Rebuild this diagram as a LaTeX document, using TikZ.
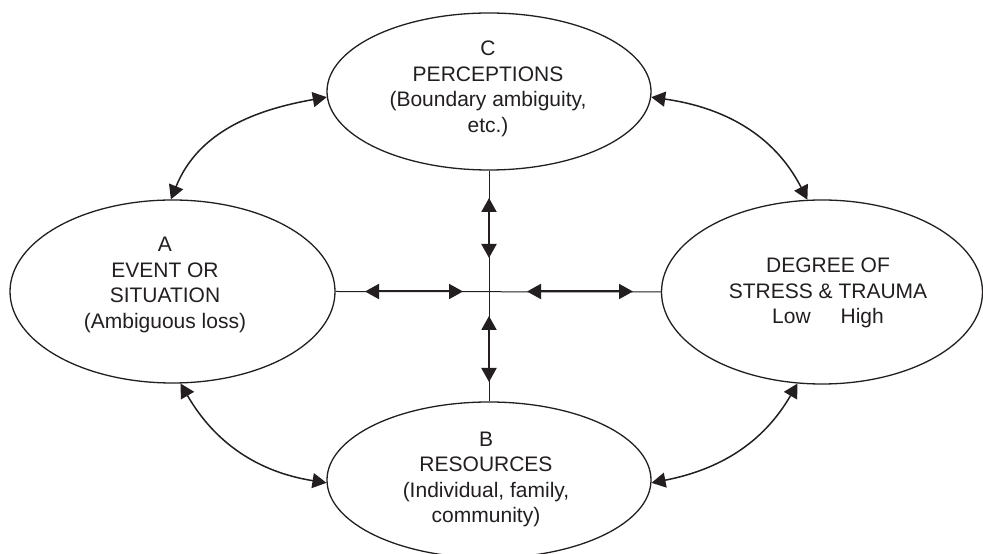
\documentclass[tikz,border=0pt]{standalone}
\usepackage{fontspec}
\setmainfont{Liberation Sans}
\usetikzlibrary{arrows.meta,shapes.geometric}
\definecolor{ink}{RGB}{35,31,32}
\begin{document}
\begin{tikzpicture}[x=1pt,y=1pt,
  oval/.style={ellipse, draw=ink, line width=1.3pt, inner sep=0pt},
  lbl/.style={align=center, text=ink, font=\fontsize{21}{25.5}\selectfont, inner sep=0pt},
  curvy/.style={{Triangle[length=14pt,width=15pt]}-{Triangle[length=14pt,width=15pt]}, draw=ink, fill=none, line width=1.5pt},
  crossline/.style={draw=ink, line width=1pt},
  crossarrow/.style={{Triangle[length=14pt,width=15pt]}-{Triangle[length=14pt,width=15pt]}, draw=ink, line width=2pt}
]
\useasboundingbox[fill=white] (0,0) rectangle (983,554);

% ellipses
\node[oval, minimum width=325pt, minimum height=183pt] (A) at (172.5,262.5) {};
\node[oval, minimum width=324pt, minimum height=157pt] (C) at (489,462.5) {};
\node[oval, minimum width=321pt, minimum height=184pt] (D) at (822,262) {};
\node[oval, minimum width=324pt, minimum height=156pt] (B) at (489,74) {};

% texts
\node[lbl] (Ct) at (488,465) {C\\PERCEPTIONS\\(Boundary ambiguity,\\etc.)};
\node[lbl] (At) at (165,269) {A\\EVENT OR\\SITUATION\\(Ambiguous loss)};
\node[lbl] (Dt) at (828,261) {DEGREE OF\\STRESS \& TRAUMA\\Low\hspace{30pt}High};
\node[lbl] (Bt) at (486,74.7) {B\\RESOURCES\\(Individual, family,\\community)};

% central cross
\draw[crossline] (C.south) -- (B.north);
\draw[crossline] (A.east) -- (D.west);

\coordinate (v1) at (489,356);
\coordinate (v2) at (489,296);
\coordinate (v3) at (489,238);
\coordinate (v4) at (489,172);
\coordinate (h1) at (365,262.5);
\coordinate (h2) at (463,262.5);
\coordinate (h3) at (527,262.5);
\coordinate (h4) at (633,262.5);

\draw[crossarrow] (v1) -- (v2);
\draw[crossarrow] (v3) -- (v4);
\draw[crossarrow] (h1) -- (h2);
\draw[crossarrow] (h3) -- (h4);

% curved connectors
\draw[curvy] (A.91) to[out=68,in=190] (C.182);
\draw[curvy] (C.358) to[out=-8,in=117] (D.99);
\draw[curvy] (A.275) to[out=-60,in=171] (B.181);
\draw[curvy] (B.359) to[out=11,in=240] (D.255);
\end{tikzpicture}
\end{document}
